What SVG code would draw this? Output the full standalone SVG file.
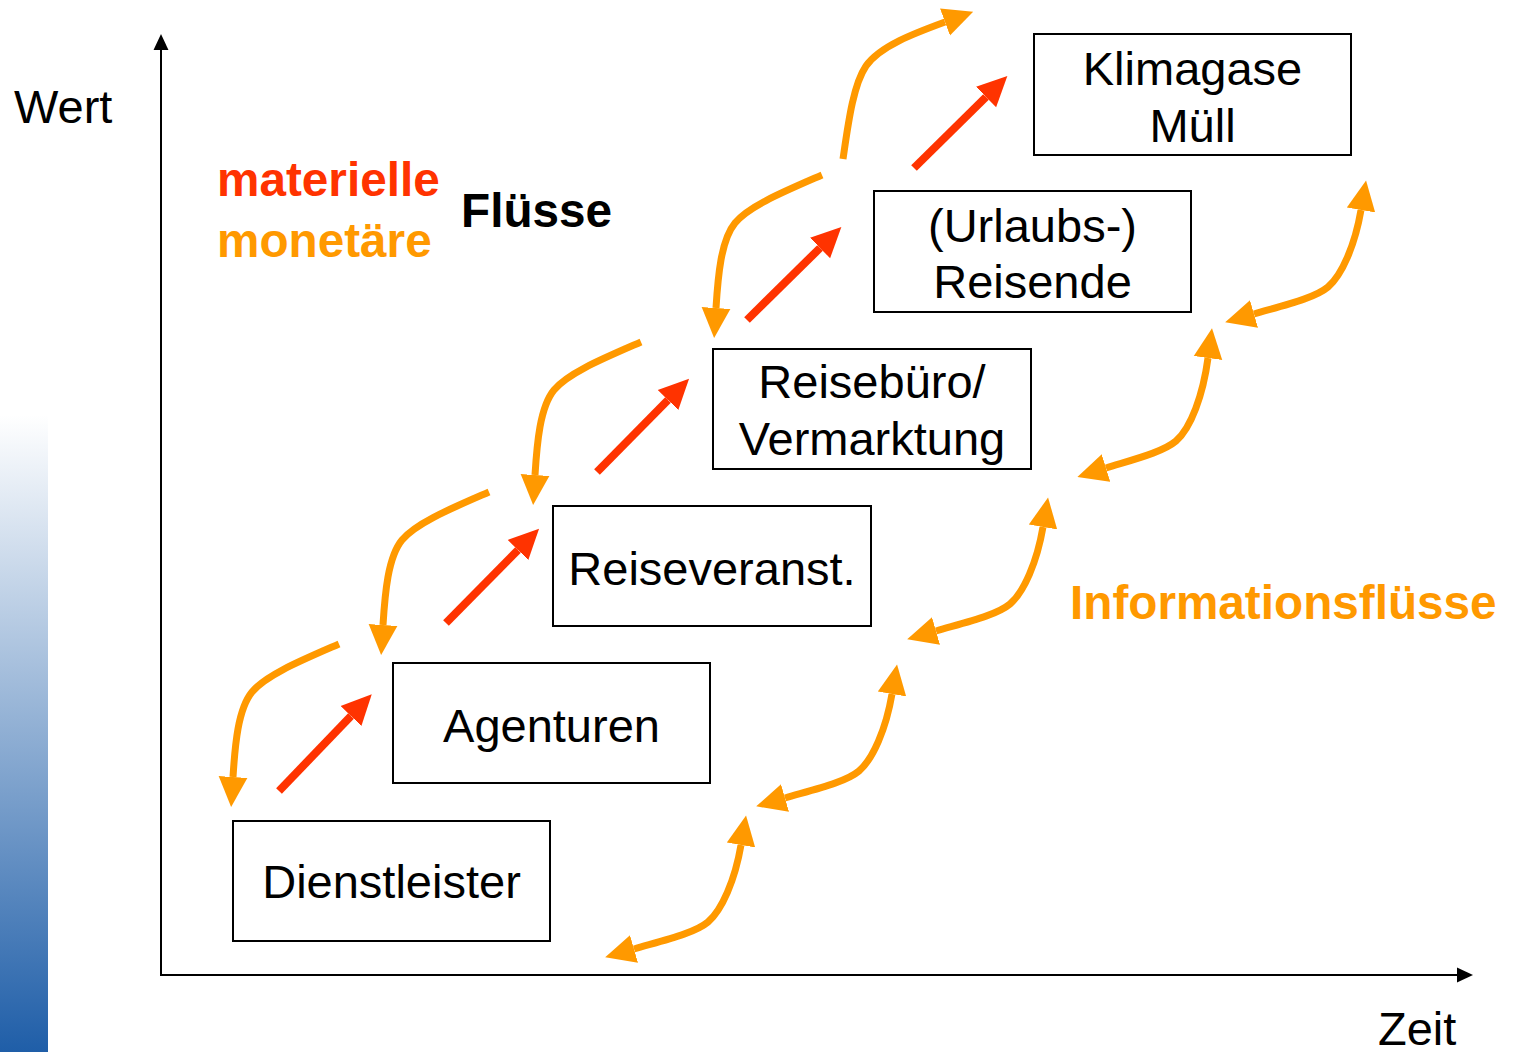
<svg xmlns="http://www.w3.org/2000/svg" width="1515" height="1052" viewBox="0 0 1515 1052">
<defs>
<style>
.box{fill:#fff;stroke:#000;stroke-width:2}
.t{font-family:"Liberation Sans",Arial,sans-serif;font-size:47px;fill:#000;text-anchor:middle}
.lbl{font-family:"Liberation Sans",Arial,sans-serif;font-size:47px}
.b{font-weight:bold;font-size:47.7px}
.red{fill:none;stroke:#ff3300;stroke-width:8;marker-end:url(#hr)}
.money{fill:none;stroke:#ff9900;stroke-width:7;marker-end:url(#ho)}
.info{fill:none;stroke:#ff9900;stroke-width:7;marker-start:url(#ho);marker-end:url(#ho)}
.axis{fill:none;stroke:#000;stroke-width:2}
</style>
<linearGradient id="bar" x1="0" y1="0" x2="0" y2="1">
<stop offset="0" stop-color="#ffffff"/>
<stop offset="1" stop-color="#1f5ea8"/>
</linearGradient>
<marker id="hr" markerUnits="userSpaceOnUse" markerWidth="30" markerHeight="30" refX="0" refY="12" viewBox="0 0 25 24" orient="auto">
<path d="M0,0 L25,12 L0,24 Z" fill="#ff3300"/>
</marker>
<marker id="ho" markerUnits="userSpaceOnUse" markerWidth="30" markerHeight="30" refX="0" refY="11.5" viewBox="0 0 24 23" orient="auto-start-reverse">
<path d="M0,0 L24,11.5 L0,23 Z" fill="#ff9900"/>
</marker>
<marker id="ha" markerUnits="userSpaceOnUse" markerWidth="16" markerHeight="16" refX="0" refY="7" viewBox="0 0 15 14" orient="auto">
<path d="M0,0 L15,7 L0,14 Z" fill="#000"/>
</marker>
</defs>
<rect x="0" y="415" width="48" height="637" fill="url(#bar)"/>
<g id="axes">
<path class="axis" d="M161,976 L161,50" marker-end="url(#ha)"/>
<path class="axis" d="M160,975 L1457,975" marker-end="url(#ha)"/>
<text class="lbl" x="14" y="123">Wert</text>
<text class="lbl" x="1378" y="1045">Zeit</text>
</g>
<g id="legend">
<text class="lbl b" x="217" y="196" fill="#ff3300">materielle</text>
<text class="lbl b" x="217" y="257" fill="#ff9900">monetäre</text>
<text class="lbl b" x="461" y="227" fill="#000">Flüsse</text>
<text class="lbl b" x="1070" y="619" fill="#ff9900">Informationsflüsse</text>
</g>
<g id="dienstleister"><rect class="box" x="233" y="821" width="317" height="120"/><text class="t" x="391.5" y="898">Dienstleister</text></g>
<g id="agenturen"><rect class="box" x="393" y="663" width="317" height="120"/><text class="t" x="551.5" y="742">Agenturen</text></g>
<g id="reiseveranst"><rect class="box" x="553" y="506" width="318" height="120"/><text class="t" x="712" y="585">Reiseveranst.</text></g>
<g id="reisebuero"><rect class="box" x="713" y="349" width="318" height="120"/><text class="t" x="872" y="398">Reisebüro/</text><text class="t" x="872" y="455">Vermarktung</text></g>
<g id="reisende"><rect class="box" x="874" y="191" width="317" height="121"/><text class="t" x="1032.5" y="242">(Urlaubs-)</text><text class="t" x="1032.5" y="298">Reisende</text></g>
<g id="klimagase"><rect class="box" x="1034" y="34" width="317" height="121"/><text class="t" x="1192.5" y="85">Klimagase</text><text class="t" x="1192.5" y="142">Müll</text></g>
<g id="connectors">
<path class="red" d="M279,791 L351,716"/>
<path class="red" d="M446,623 L518,550"/>
<path class="red" d="M597,472 L668,400"/>
<path class="red" d="M747,320 L820,248"/>
<path class="red" d="M914,168 L986,97"/>
<path class="money" transform="translate(339,644)" d="M0,0 C-39,17 -73,31 -87,48 C-101,65 -104,101 -106,133"/>
<path class="money" transform="translate(489,492)" d="M0,0 C-39,17 -73,31 -87,48 C-101,65 -104,101 -106,133"/>
<path class="money" transform="translate(641,342)" d="M0,0 C-39,17 -73,31 -87,48 C-101,65 -104,101 -106,133"/>
<path class="money" transform="translate(822,175)" d="M0,0 C-39,17 -73,31 -87,48 C-101,65 -104,101 -106,133"/>
<path class="money" d="M843,159 C848,125 853,85 866,66 C880,46 915,33 945,22"/>
<path class="info" transform="translate(611,956)" d="M23,-7 C54,-16 84,-23 97,-34 C111,-46 124,-76 130,-111"/>
<path class="info" transform="translate(762,805)" d="M23,-7 C54,-16 84,-23 97,-34 C111,-46 124,-76 130,-111"/>
<path class="info" transform="translate(913,638)" d="M23,-7 C54,-16 84,-23 97,-34 C111,-46 124,-76 130,-111"/>
<path class="info" d="M1106,468 C1135,459 1163,452 1176,441 C1191,428 1203,395 1208,358"/>
<path class="info" transform="translate(1231,321)" d="M23,-7 C54,-16 84,-23 97,-34 C111,-46 124,-76 130,-111"/>
</g>
</svg>
